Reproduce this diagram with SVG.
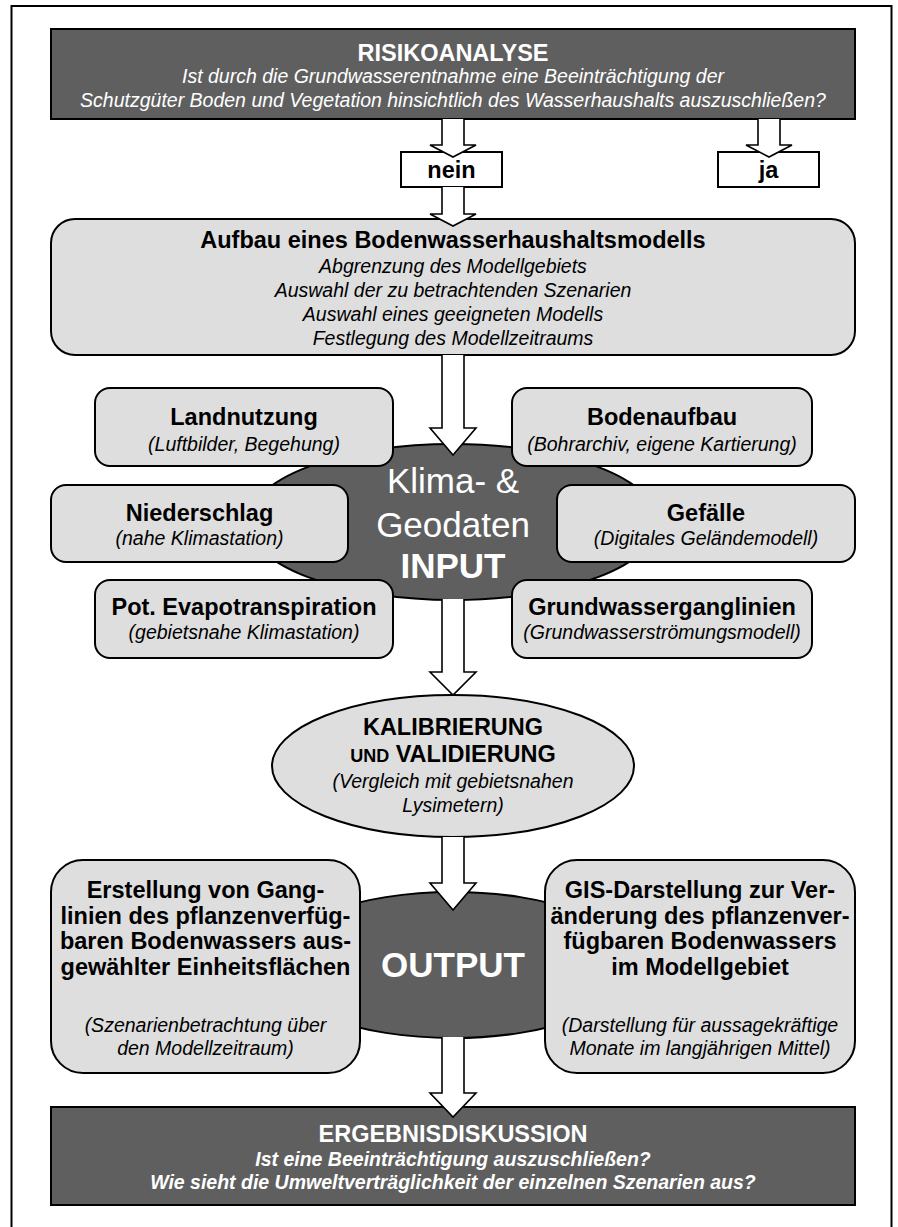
<svg xmlns="http://www.w3.org/2000/svg" width="898" height="1227" viewBox="0 0 898 1227">
<style>
text{font-family:"Liberation Sans",Arial,Helvetica,sans-serif;text-anchor:middle}
.dark{fill:#5f5f5f;stroke:#000;stroke-width:2}
.light{fill:#dedede;stroke:#000;stroke-width:2}
.white{fill:#fff;stroke:#000;stroke-width:2}
.b{font-weight:bold;font-size:23.5px;fill:#000}
.i{font-style:italic;font-size:19.5px;fill:#000}
.bw{font-weight:bold;font-size:23.5px;fill:#fff}
.iw{font-style:italic;font-size:19.5px;fill:#fff}
.biw{font-style:italic;font-weight:bold;font-size:19.5px;fill:#fff}
.big{font-size:35px;fill:#fff}
.bigb{font-size:35px;font-weight:bold;fill:#fff}
.arrow{fill:#fff;stroke:#000;stroke-width:1.6;stroke-linejoin:miter}
</style>
<rect x="11.5" y="6" width="880" height="1240" fill="#fff" stroke="#000" stroke-width="2"/>

<g id="risikoanalyse">
<rect class="dark" x="51" y="29" width="804" height="90"/>
<text class="bw" x="453" y="61">RISIKOANALYSE</text>
<text class="iw" x="453" y="83">Ist durch die Grundwasserentnahme eine Beeinträchtigung der</text>
<text class="iw" x="453" y="107">Schutzgüter Boden und Vegetation hinsichtlich des Wasserhaushalts auszuschließen?</text>
</g>

<g id="nein">
<rect class="white" x="401" y="152" width="101" height="35"/>
<text class="b" x="451.5" y="178">nein</text>
</g>

<g id="ja">
<rect class="white" x="718" y="152" width="101" height="35"/>
<text class="b" x="768.5" y="178">ja</text>
</g>

<g id="aufbau">
<rect class="light" x="51" y="219" width="804" height="136" rx="24"/>
<text class="b" x="453" y="248">Aufbau eines Bodenwasserhaushaltsmodells</text>
<text class="i" x="453" y="273">Abgrenzung des Modellgebiets</text>
<text class="i" x="453" y="297">Auswahl der zu betrachtenden Szenarien</text>
<text class="i" x="453" y="321">Auswahl eines geeigneten Modells</text>
<text class="i" x="453" y="345">Festlegung des Modellzeitraums</text>
</g>

<g id="input">
<ellipse class="dark" cx="453" cy="522" rx="205" ry="78"/>
<text class="big" x="453" y="493">Klima- &amp;</text>
<text class="big" x="453" y="537">Geodaten</text>
<text class="bigb" x="453" y="578">INPUT</text>
</g>

<g id="landnutzung">
<rect class="light" x="95" y="388" width="298" height="78" rx="15"/>
<text class="b" x="244" y="425">Landnutzung</text>
<text class="i" x="244" y="451">(Luftbilder, Begehung)</text>
</g>

<g id="bodenaufbau">
<rect class="light" x="512" y="388" width="300" height="78" rx="15"/>
<text class="b" x="662" y="425">Bodenaufbau</text>
<text class="i" x="662" y="451">(Bohrarchiv, eigene Kartierung)</text>
</g>

<g id="niederschlag">
<rect class="light" x="51" y="485" width="297" height="77" rx="15"/>
<text class="b" x="199.5" y="521">Niederschlag</text>
<text class="i" x="199.5" y="545">(nahe Klimastation)</text>
</g>

<g id="gefaelle">
<rect class="light" x="557" y="485" width="298" height="77" rx="15"/>
<text class="b" x="706" y="521">Gefälle</text>
<text class="i" x="706" y="545">(Digitales Geländemodell)</text>
</g>

<g id="evapotranspiration">
<rect class="light" x="95" y="580" width="298" height="78" rx="15"/>
<text class="b" x="244" y="615">Pot. Evapotranspiration</text>
<text class="i" x="244" y="639">(gebietsnahe Klimastation)</text>
</g>

<g id="grundwasserganglinien">
<rect class="light" x="512" y="580" width="300" height="78" rx="15"/>
<text class="b" x="662" y="615">Grundwasserganglinien</text>
<text class="i" x="662" y="639">(Grundwasserströmungsmodell)</text>
</g>

<g id="kalibrierung">
<ellipse class="light" cx="453" cy="766" rx="181" ry="71"/>
<text class="b" x="453" y="735">KALIBRIERUNG</text>
<text class="b" x="453" y="762"><tspan font-size="18px">UND</tspan> VALIDIERUNG</text>
<text class="i" x="453" y="788">(Vergleich mit gebietsnahen</text>
<text class="i" x="453" y="812">Lysimetern)</text>
</g>

<g id="output">
<ellipse class="dark" cx="453" cy="965" rx="183" ry="73"/>
<text class="bigb" x="453" y="977">OUTPUT</text>
</g>

<g id="ganglinien">
<rect class="light" x="51" y="860" width="309" height="213" rx="32"/>
<text class="b" x="205.5" y="898">Erstellung von Gang-</text>
<text class="b" x="205.5" y="923.5">linien des pflanzenverfüg-</text>
<text class="b" x="205.5" y="949">baren Bodenwassers aus-</text>
<text class="b" x="205.5" y="974.5">gewählter Einheitsflächen</text>
<text class="i" x="205.5" y="1032">(Szenarienbetrachtung über</text>
<text class="i" x="205.5" y="1055">den Modellzeitraum)</text>
</g>

<g id="gis">
<rect class="light" x="545" y="860" width="310" height="213" rx="32"/>
<text class="b" x="700" y="898">GIS-Darstellung zur Ver-</text>
<text class="b" x="700" y="923.5">änderung des pflanzenver-</text>
<text class="b" x="700" y="949">fügbaren Bodenwassers</text>
<text class="b" x="700" y="974.5">im Modellgebiet</text>
<text class="i" x="700" y="1032">(Darstellung für aussagekräftige</text>
<text class="i" x="700" y="1055">Monate im langjährigen Mittel)</text>
</g>

<g id="ergebnisdiskussion">
<rect class="dark" x="51" y="1107" width="804" height="98"/>
<text class="bw" x="453" y="1142">ERGEBNISDISKUSSION</text>
<text class="biw" x="453" y="1166">Ist eine Beeinträchtigung auszuschließen?</text>
<text class="biw" x="453" y="1189">Wie sieht die Umweltverträglichkeit der einzelnen Szenarien aus?</text>
</g>

<g id="connectors">
<path class="arrow" d="M442,119 L442,145 L430,145 L453,157 L476,145 L464,145 L464,119"/>
<path class="arrow" d="M758,119 L758,145 L746,145 L769,157 L792,145 L780,145 L780,119"/>
<path class="arrow" d="M442,187 L442,214 L430,214 L453,226 L476,214 L464,214 L464,187"/>
<path class="arrow" d="M442,355 L442,428 L430,428 L453,455 L476,428 L464,428 L464,355"/>
<path class="arrow" d="M442,599 L442,672 L430,672 L453,695 L476,672 L464,672 L464,599"/>
<path class="arrow" d="M442,837 L442,883 L430,883 L453,910 L476,883 L464,883 L464,837"/>
<path class="arrow" d="M442,1037 L442,1093 L430,1093 L453,1117 L476,1093 L464,1093 L464,1037"/>
</g>
</svg>
